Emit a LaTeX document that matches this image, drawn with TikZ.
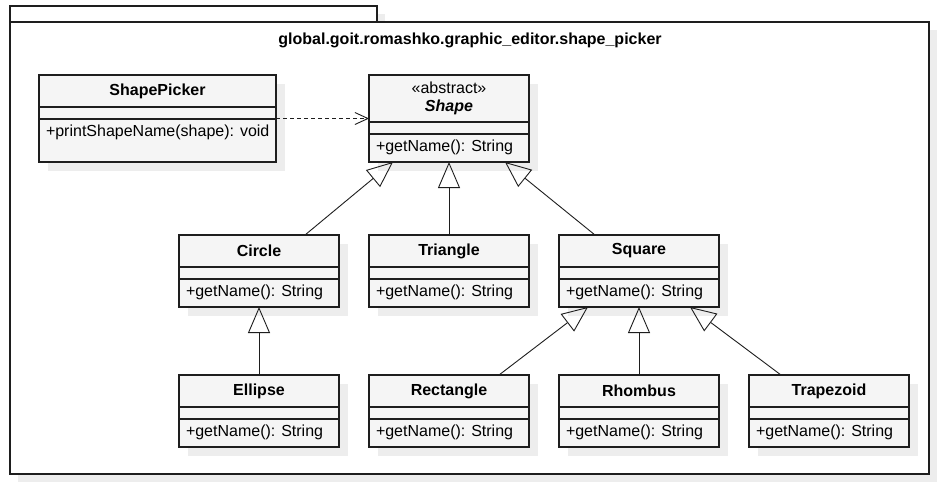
\documentclass[tikz,border=0pt]{standalone}
\usepackage{fontspec}
\setmainfont{Liberation Sans}
\usetikzlibrary{shapes,arrows.meta,positioning,shadows}
\definecolor{boxfill}{HTML}{F5F5F5}
\definecolor{shade}{HTML}{EDEDED}
\definecolor{ink}{HTML}{1E1E1E}
\def\Op{+getName(): String}

% class box: id, x, y, width, head height, total height, title, method
\newcommand{\umlclass}[8]{%
	\node[classframe,minimum width=#4pt,minimum height=#6pt](#1) at (#2,#3) {};
	\node[classhead,minimum width=#4pt,minimum height=#5pt](#1-t) at (#2,#3) {#7};
	\draw[ink,line width=1.1pt] ({#2},{#3+#5}) -- ++(#4,0) ({#2},{#3+#5+12}) -- ++(#4,0);
	\node[classop](#1-m) at ({#2+7},{#3+#5+25.5}) {#8};
}

\begin{document}
\begin{tikzpicture}[x=1pt,y=-1pt,% pixel grid, y goes down
			every node/.style={
				inner sep=0pt,outer sep=0pt,
				font=\fontsize{16}{18}\selectfont	% same size for every text
			},
			classframe/.style={rectangle,anchor=north west,draw=ink,line width=1.1pt,fill=boxfill,
				drop shadow={shadow xshift=9pt,shadow yshift=-9pt,fill=shade,opacity=1}},
			classhead/.style={anchor=north west,align=center,font=\fontsize{16}{18}\selectfont\bfseries},
			classop/.style={anchor=west},
			pkgbox/.style={rectangle,anchor=north west,draw=ink,line width=1.1pt,fill=white,
				drop shadow={shadow xshift=8pt,shadow yshift=-8pt,fill=shade,opacity=1}},
			gen/.style={draw=ink,line width=0.9pt,-{Triangle[open,length=26pt,width=22pt,line width=0.9pt]}},
			dep/.style={draw=ink,line width=0.9pt,dash pattern=on 4pt off 3pt,-{Straight Barb[length=13pt,width=12pt,line width=0.9pt]}}
		]
		\useasboundingbox (0,0) rectangle (939,483);
		% package
		\node[pkgbox,minimum width=367pt,minimum height=16pt](tab) at (10,6) {};
		\node[pkgbox,minimum width=919pt,minimum height=452pt](pkg) at (10,22) {};
		\node[font=\fontsize{16}{18}\selectfont\bfseries](pkgname) at (470,40) {global.goit.romashko.graphic\_editor.shape\_picker};
		% classes
		\umlclass{picker}{39}{75}{237}{32}{87}{ShapePicker}{+printShapeName(shape): void}
		\umlclass{shape}{369}{75}{160}{47}{87}{{\mdseries «abstract»}\\\textit{Shape}}{\Op}
		\umlclass{circ}{179}{235}{160}{32}{72}{Circle}{\Op}
		\umlclass{tri}{369}{235}{160}{32}{72}{Triangle}{\Op}
		\umlclass{sq}{559}{235}{160}{32}{72}{Square}{\Op}
		\umlclass{ell}{179}{375}{160}{32}{72}{Ellipse}{\Op}
		\umlclass{rect}{369}{375}{160}{32}{72}{Rectangle}{\Op}
		\umlclass{rhomb}{559}{375}{160}{32}{72}{Rhombus}{\Op}
		\umlclass{trap}{749}{375}{160}{32}{72}{Trapezoid}{\Op}
		\path
		(picker)edge [dep] (shape)
		([xshift=46pt]circ.north)edge [gen] ([xshift=-56pt]shape.south)
		(tri)edge [gen] (shape)
		([xshift=-44pt]sq.north)edge [gen] ([xshift=56pt]shape.south)
		(ell)edge [gen] (circ)
		([xshift=50pt]rect.north)edge [gen] ([xshift=-51pt]sq.south)
		(rhomb)edge [gen] (sq)
		([xshift=-48pt]trap.north)edge [gen] ([xshift=51pt]sq.south)
		;
	\end{tikzpicture}
\end{document}
